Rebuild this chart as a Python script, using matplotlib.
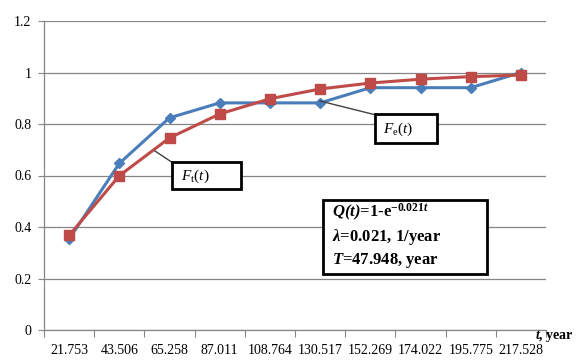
import numpy as np
import matplotlib
matplotlib.use("Agg")
import matplotlib.pyplot as plt
from matplotlib.patches import Rectangle
from matplotlib.lines import Line2D

plt.rcParams['font.family'] = ['Liberation Serif', 'DejaVu Serif']
plt.rcParams['mathtext.fontset'] = 'custom'
plt.rcParams['mathtext.rm'] = 'Liberation Serif'
plt.rcParams['mathtext.it'] = 'Liberation Serif:italic'
plt.rcParams['mathtext.bf'] = 'Liberation Serif:bold'
plt.rcParams['mathtext.bfit'] = 'Liberation Serif:italic:bold'

categories = ["21.753", "43.506", "65.258", "87.011", "108.764",
              "130.517", "152.269", "174.022", "195.775", "217.528"]
empirical = [0.353, 0.647, 0.824, 0.882, 0.882, 0.882, 0.941, 0.941, 0.941, 1.0]
theoretical = [0.367, 0.599, 0.746, 0.839, 0.898, 0.936, 0.959, 0.974, 0.984, 0.990]
yticks = [0, 0.2, 0.4, 0.6, 0.8, 1, 1.2]
ytick_labels = ["0", "0.2", "0.4", "0.6", "0.8", "1", "1.2"]

W, H = 580, 360
fig = plt.figure(figsize=(W / 100, H / 100), dpi=100)
ax = fig.add_axes([44 / W, (H - 330) / H, (546 - 44) / W, (330 - 21) / H])

x = np.arange(len(categories))
grid_c = '#868686'
blue = '#4A7EBB'
red = '#BE4B48'

ax.plot(x, empirical, color=blue, lw=2.2, marker='D', ms=5, mfc=blue, mec=blue, zorder=3)
ax.plot(x, theoretical, color=red, lw=2.2, marker='s', ms=7.5, mfc=red, mec=red, zorder=4)

ax.set_xlim(-0.5, len(categories) - 0.5)
ax.set_ylim(0, 1.2)
ax.set_yticks(yticks)
ax.set_yticklabels(ytick_labels, fontsize=10)
ax.set_xticks(x)
ax.set_xticklabels(categories, fontsize=10)
ax.set_xticks(np.arange(len(categories) + 1) - 0.5, minor=True)
ax.tick_params(axis='x', which='major', length=0, pad=10)
ax.tick_params(axis='x', which='minor', length=5, color=grid_c, width=0.8)
ax.tick_params(axis='y', length=4, color=grid_c, width=0.8, pad=5)
ax.yaxis.grid(True, color=grid_c, lw=0.9)
ax.set_axisbelow(True)
for s in ['top', 'right']:
    ax.spines[s].set_visible(False)
for s in ['left', 'bottom']:
    ax.spines[s].set_color(grid_c)
    ax.spines[s].set_linewidth(0.9)

# axis label
fig.text(535 / W, 1 - 336 / H, r"$\mathbfit{t}$, year", fontsize=10, fontweight='bold',
         ha='left', va='center')

def px(xp, yp):
    return xp / W, 1 - yp / H

def box(x0, y0, x1, y1, lw=2.0):
    r = Rectangle(px(x0, y1), (x1 - x0) / W, (y1 - y0) / H, transform=fig.transFigure,
                  facecolor='white', edgecolor='black', lw=lw, zorder=10)
    fig.patches.append(r)

# Fe(t) callout
fig.add_artist(Line2D([320 / W, 376 / W], [1 - 101 / H, 1 - 115 / H], color='#404040', lw=1, zorder=9))
box(375, 114, 437, 143)
fig.text(383 / W, 1 - 129 / H, r"$F_{\mathrm{e}}(t)$", fontsize=11, ha='left', va='center', zorder=11)

# Ft(t) callout
fig.add_artist(Line2D([155 / W, 173 / W], [1 - 151 / H, 1 - 163 / H], color='#404040', lw=1, zorder=9))
box(172, 162, 241, 189)
fig.text(181 / W, 1 - 176 / H, r"$F_{\mathrm{t}}(t)$", fontsize=11, ha='left', va='center', zorder=11)

# formula box
box(323, 200, 487, 274)
fig.text(332 / W, 1 - 212 / H, r"$\mathbfit{Q(t)}$=1-e$^{\mathbf{-0.021}\mathbfit{t}}$",
         fontsize=12, fontweight='bold', ha='left', va='center', zorder=11)
fig.text(332 / W, 1 - 237 / H, r"$\mathbfit{\lambda}$=0.021, 1/year",
         fontsize=12, fontweight='bold', ha='left', va='center', zorder=11)
fig.text(332 / W, 1 - 261 / H, r"$\mathbfit{T}$=47.948, year",
         fontsize=12, fontweight='bold', ha='left', va='center', zorder=11)

fig.savefig("out.png", dpi=100)
